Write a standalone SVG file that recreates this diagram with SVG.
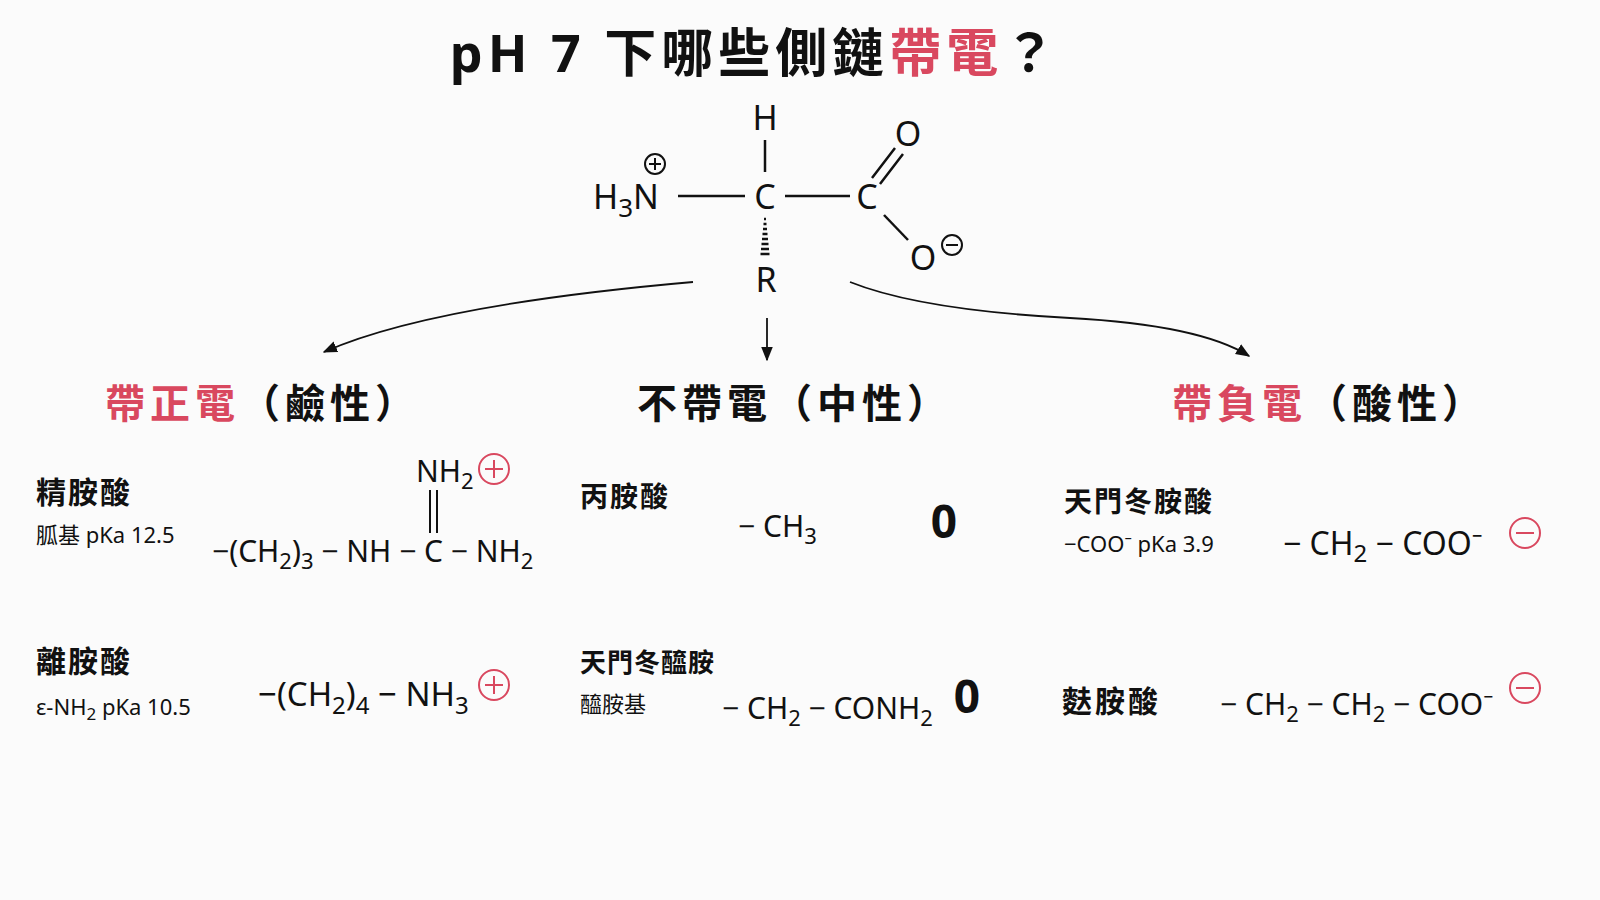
<svg xmlns="http://www.w3.org/2000/svg" width="1600" height="900" viewBox="0 0 1600 900">
<defs>
<style>
text{font-family:"Noto Sans","Noto Sans CJK TC",sans-serif;fill:#111}
.b{font-weight:700}
.red{fill:#d9485f}
.f{font-size:30px}
.s{font-size:22px}
.h{font-size:40px;font-weight:700;letter-spacing:5px}
.ln{stroke:#111;stroke-width:2.5;fill:none}
.chg{stroke:#d9485f;stroke-width:2;fill:none}
.con{stroke:#111;stroke-width:1.8;fill:none}
</style>
<marker id="ah" viewBox="0 0 10 10" refX="9" refY="5" markerWidth="8" markerHeight="8" orient="auto"><path d="M0,1 L10,5 L0,9 Z" fill="#111"/></marker>
<g id="plus"><circle r="15" class="chg"/><path d="M-9,0H9M0,-9V9" class="chg"/></g>
<g id="minus"><circle r="15" class="chg"/><path d="M-9,0H9" class="chg"/></g>
</defs>
<rect width="1600" height="900" fill="#fbfbfb"/>
<g id="title"><text x="755" y="72" text-anchor="middle" class="b" font-size="52" letter-spacing="5">pH 7 下哪些側鏈<tspan class="red">帶電</tspan>？</text></g>
<g id="aminoacid" font-size="34">
<text x="765" y="130" text-anchor="middle" font-size="34">H</text>
<path d="M765,140V172" class="ln"/>
<text x="593" y="209" font-size="34">H<tspan font-size="26" dy="8">3</tspan><tspan dy="-8">N</tspan></text>
<circle cx="655" cy="164" r="10" stroke="#111" stroke-width="2" fill="none"/><path d="M649,164H661M655,158V170" stroke="#111" stroke-width="2"/>
<path d="M678,196H745" class="ln"/>
<text x="765" y="209" text-anchor="middle" font-size="34">C</text>
<path d="M785,196H850" class="ln"/>
<text x="867" y="209" text-anchor="middle" font-size="34">C</text>
<path d="M872,178L895,148M880,184L903,154" class="ln"/>
<text x="908" y="146" text-anchor="middle" font-size="34">O</text>
<path d="M884,215L908,240" class="ln"/>
<text x="923" y="270" text-anchor="middle" font-size="34">O</text>
<circle cx="952" cy="245" r="10" stroke="#111" stroke-width="2" fill="none"/><path d="M946,245H958" stroke="#111" stroke-width="2"/>
<path d="M764,219h2M763.5,224h3M763,229h4M762.5,234h5M762,239h6M761.5,244h7M761,249h8M760.5,254h9" stroke="#111" stroke-width="2.5"/>
<text x="766" y="292" text-anchor="middle" font-size="34">R</text>
</g>
<g id="connectors">
<path d="M693,282Q430,305 324,352" class="con" marker-end="url(#ah)"/>
<path d="M767,318V360" class="con" marker-end="url(#ah)"/>
<path d="M850,282Q920,310 1070,318Q1200,325 1249,356" class="con" marker-end="url(#ah)"/>
</g>
<g id="h-pos"><text x="105" y="418" class="h"><tspan class="red">帶正電</tspan>（鹼性）</text></g>
<g id="h-neu"><text x="637" y="418" class="h">不帶電（中性）</text></g>
<g id="h-neg"><text x="1172" y="418" class="h"><tspan class="red">帶負電</tspan>（酸性）</text></g>
<g id="arg">
<text x="36" y="503" class="b" font-size="30" letter-spacing="2">精胺酸</text>
<text x="36" y="543" class="s">胍基 pKa 12.5</text>
<text x="212" y="562" class="f">−(CH<tspan font-size="22" dy="7">2</tspan><tspan dy="-7">)</tspan><tspan font-size="22" dy="7">3</tspan><tspan dy="-7"> − NH − C − NH</tspan><tspan font-size="22" dy="7">2</tspan></text>
<text x="416" y="482" class="f">NH<tspan font-size="22" dy="7">2</tspan></text>
<path d="M430,490V533M437,490V533" stroke="#111" stroke-width="2"/>
<use href="#plus" x="494" y="469"/>
</g>
<g id="lys">
<text x="36" y="672" class="b" font-size="30" letter-spacing="2">離胺酸</text>
<text x="36" y="715" class="s">ε-NH<tspan font-size="17" dy="5">2</tspan><tspan dy="-5"> pKa 10.5</tspan></text>
<text x="258" y="706" font-size="33">−(CH<tspan font-size="24" dy="8">2</tspan><tspan dy="-8">)</tspan><tspan font-size="24" dy="8">4</tspan><tspan dy="-8"> − NH</tspan><tspan font-size="24" dy="8">3</tspan></text>
<use href="#plus" x="494" y="685"/>
</g>
<g id="ala">
<text x="580" y="507" class="b" font-size="28" letter-spacing="2">丙胺酸</text>
<text x="738" y="537" class="f">− CH<tspan font-size="22" dy="7">3</tspan></text>
<text x="944" y="538" text-anchor="middle" class="b" font-size="46">0</text>
</g>
<g id="asn">
<text x="580" y="672" class="b" font-size="26" letter-spacing="1">天門冬醯胺</text>
<text x="580" y="712" class="s">醯胺基</text>
<text x="722" y="719" class="f">− CH<tspan font-size="22" dy="7">2</tspan><tspan dy="-7"> − CONH</tspan><tspan font-size="22" dy="7">2</tspan></text>
<text x="967" y="713" text-anchor="middle" class="b" font-size="46">0</text>
</g>
<g id="asp">
<text x="1064" y="512" class="b" font-size="28" letter-spacing="2">天門冬胺酸</text>
<text x="1064" y="552" class="s">−COO⁻ pKa 3.9</text>
<text x="1283" y="555" font-size="32">− CH<tspan font-size="24" dy="7">2</tspan><tspan dy="-7"> − COO⁻</tspan></text>
<use href="#minus" x="1525" y="533"/>
</g>
<g id="glu">
<text x="1062" y="712" class="b" font-size="30" letter-spacing="3">麩胺酸</text>
<text x="1220" y="715" class="f">− CH<tspan font-size="22" dy="7">2</tspan><tspan dy="-7"> − CH</tspan><tspan font-size="22" dy="7">2</tspan><tspan dy="-7"> − COO⁻</tspan></text>
<use href="#minus" x="1525" y="688"/>
</g>
</svg>
